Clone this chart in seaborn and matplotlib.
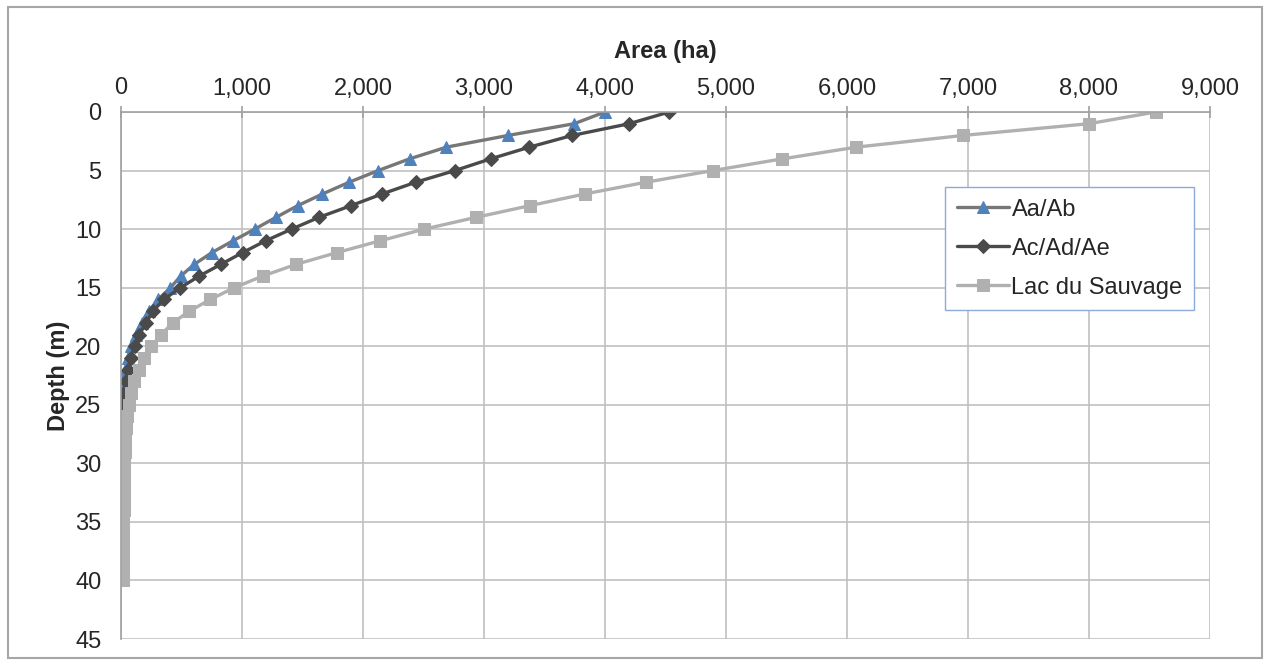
import matplotlib
matplotlib.use("Agg")
import pandas as pd
import seaborn as sns
import matplotlib.pyplot as plt
from matplotlib.ticker import StrMethodFormatter
from matplotlib.patches import Rectangle

# Depth (m) and area (ha)
aa_depth = list(range(0, 27))
aa_area = [4000, 3745, 3200, 2690, 2385, 2125, 1885, 1665, 1460, 1280, 1105, 925,
           752, 607, 494, 409, 308, 230, 170, 120, 85, 55, 35, 20, 10, 5, 0]

ac_depth = list(range(0, 33))
ac_area = [4530, 4200, 3730, 3375, 3055, 2760, 2435, 2157, 1900, 1635, 1410, 1195,
           1006, 827, 648, 491, 355, 264, 208, 151, 113, 80, 55, 38, 25, 16, 10,
           6, 3, 1, 0, 0, 0]

lac_depth = list(range(0, 41))
lac_area = [8550, 8000, 6960, 6078, 5466, 4892, 4336, 3833, 3378, 2932, 2506, 2141,
            1786, 1450, 1173, 937, 739, 566, 428, 333, 252, 190, 148, 110, 85, 65,
            52, 43, 36, 31, 28, 26, 24, 22, 21, 19, 18, 17, 16, 15, 14]

series_names = ['Aa/Ab', 'Ac/Ad/Ae', 'Lac du Sauvage']

frames = []
for name, d, a in zip(series_names, [aa_depth, ac_depth, lac_depth], [aa_area, ac_area, lac_area]):
    frames.append(pd.DataFrame({'Depth': d, 'Area': a, 'Series': name}))
data = pd.concat(frames, ignore_index=True)

sns.set_style('white')
plt.rcParams['font.family'] = ['Liberation Sans', 'DejaVu Sans']

fig = plt.figure(figsize=(12.68, 6.64), dpi=100)
ax = fig.add_axes([121 / 1268, 1 - 639 / 664, 1089 / 1268, 527 / 664])

styles = {
    'Aa/Ab': dict(color='#777777', marker='^', markersize=9, markerfacecolor='#4f81bd',
                  markeredgecolor='#4f81bd'),
    'Ac/Ad/Ae': dict(color='#4a4a4a', marker='D', markersize=7, markerfacecolor='#4a4a4a',
                     markeredgecolor='#4a4a4a'),
    'Lac du Sauvage': dict(color='#b0b0b0', marker='s', markersize=9, markerfacecolor='#b0b0b0',
                           markeredgecolor='#b0b0b0'),
}

for name in series_names:
    sub = data[data['Series'] == name]
    sns.lineplot(data=sub, x='Area', y='Depth', sort=False, estimator=None, ax=ax,
                 label=name, linewidth=2.4, **styles[name])

ax.set_xlim(0, 9000)
ax.set_ylim(45, 0)
ax.set_xticks(range(0, 9001, 1000))
ax.set_yticks(range(0, 46, 5))
ax.xaxis.set_major_formatter(StrMethodFormatter('{x:,.0f}'))
ax.xaxis.tick_top()
ax.xaxis.set_label_position('top')

ax.grid(True, color='#c0c0c0', linewidth=1.2)
ax.set_axisbelow(True)
for side in ['right', 'bottom']:
    ax.spines[side].set_visible(False)
for side in ['left', 'top']:
    ax.spines[side].set_color('#a0a0a0')
    ax.spines[side].set_linewidth(1.2)

ax.tick_params(axis='both', direction='inout', length=8, width=1.2, color='#a0a0a0',
               labelsize=17, labelcolor='#262626')
ax.tick_params(axis='x', pad=5)
ax.tick_params(axis='y', pad=10)

ax.set_xlabel('Area (ha)', fontsize=17, fontweight='bold', labelpad=14, color='#262626')
ax.set_ylabel('Depth (m)', fontsize=17, fontweight='bold', labelpad=4, color='#262626')

leg = ax.legend(loc='upper left', bbox_to_anchor=(0.757, 0.858), fontsize=17, frameon=True,
                fancybox=False, framealpha=1, edgecolor='#8eaadb', handlelength=2.2,
                handletextpad=0.1, labelspacing=0.72, borderpad=0.5, borderaxespad=0)
leg.get_frame().set_linewidth(1.0)

fig.add_artist(Rectangle((8 / 1268, 1 - 658 / 664), 1254 / 1268, 651 / 664,
                         transform=fig.transFigure, fill=False, edgecolor='#a6a6a6',
                         linewidth=1.5))

fig.savefig('out.png', dpi=100)
